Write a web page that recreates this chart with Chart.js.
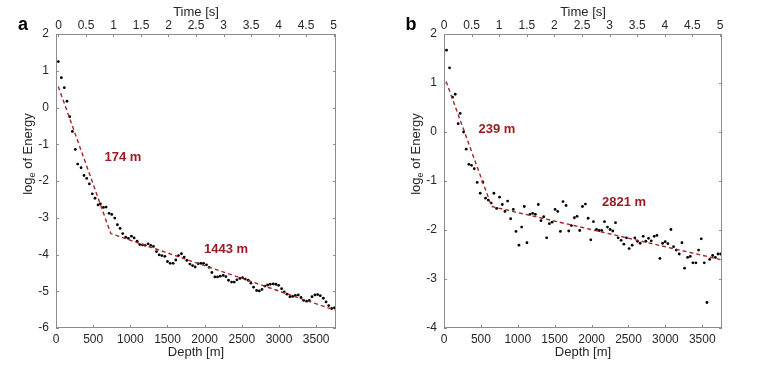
<!DOCTYPE html>
<html>
<head>
<meta charset="utf-8">
<script src="https://cdn.jsdelivr.net/npm/chart.js@4.4.0/dist/chart.umd.min.js"></script>
<style>
    html, body { margin: 0; padding: 0; background: #fff; }
    #wrap { position: relative; width: 763px; height: 370px; }
    canvas { position: absolute; top: 0; }
</style>
</head>
<body>
<div id="wrap">
    <canvas id="chartA" width="380" height="370" style="left:0"></canvas>
    <canvas id="chartB" width="380" height="370" style="left:383px"></canvas>
</div>
<script>
// Panel a data (depth in m, log_e of energy)
const depthA = [31, 72, 112, 148, 184, 220, 260, 292, 337, 377,
    413, 449, 489, 525, 566, 597, 638, 674, 714, 750,
    790, 826, 862, 898, 938, 974, 1015, 1051, 1091, 1127,
    1163, 1199, 1239, 1275, 1311, 1352, 1388, 1423, 1464, 1500,
    1536, 1576, 1612, 1648, 1688, 1724, 1760, 1801, 1837, 1872,
    1913, 1949, 1985, 2025, 2061, 2097, 2137, 2173, 2209, 2250,
    2286, 2321, 2362, 2398, 2434, 2474, 2510, 2546, 2586, 2622,
    2658, 2699, 2735, 2771, 2811, 2847, 2883, 2923, 2959, 2995,
    3035, 3071, 3107, 3148, 3184, 3220, 3260, 3296, 3332, 3372,
    3408, 3444, 3484, 3520, 3556, 3597, 3633, 3669, 3709, 3745];
const energyA = [1.25, 0.81, 0.54, 0.17, -0.25, -0.65, -1.14, -1.54, -1.64, -1.85,
    -1.93, -2.08, -2.35, -2.47, -2.65, -2.62, -2.72, -2.71, -2.88, -2.91,
    -3.01, -3.19, -3.29, -3.43, -3.53, -3.56, -3.50, -3.55, -3.64, -3.73,
    -3.74, -3.75, -3.71, -3.75, -3.78, -3.92, -4.01, -4.03, -4.05, -4.19,
    -4.24, -4.24, -4.15, -4.03, -3.98, -4.07, -4.16, -4.26, -4.30, -4.34,
    -4.25, -4.24, -4.24, -4.28, -4.35, -4.49, -4.61, -4.61, -4.59, -4.57,
    -4.60, -4.70, -4.75, -4.75, -4.69, -4.65, -4.63, -4.67, -4.70, -4.78,
    -4.89, -4.98, -4.99, -4.95, -4.86, -4.83, -4.81, -4.80, -4.81, -4.84,
    -4.93, -5.02, -5.08, -5.15, -5.14, -5.11, -5.10, -5.17, -5.25, -5.27,
    -5.25, -5.15, -5.10, -5.09, -5.12, -5.19, -5.29, -5.39, -5.47, -5.45];
const fitDepthA = [31, 737, 3745];
const fitEnergyA = [0.57, -3.43, -5.51];

// Panel b data
const depthB = [34, 75, 115, 152, 192, 219, 265, 301, 337, 373,
    410, 450, 491, 527, 563, 600, 640, 676, 713, 753,
    790, 826, 862, 903, 939, 975, 1016, 1052, 1088, 1124,
    1165, 1201, 1238, 1278, 1314, 1351, 1391, 1428, 1464, 1505,
    1541, 1577, 1613, 1654, 1690, 1726, 1767, 1803, 1839, 1876,
    1916, 1953, 1989, 2025, 2066, 2102, 2138, 2174, 2215, 2251,
    2287, 2324, 2360, 2400, 2437, 2473, 2509, 2550, 2586, 2622,
    2658, 2699, 2735, 2772, 2808, 2848, 2885, 2925, 2962, 2998,
    3034, 3075, 3111, 3147, 3188, 3224, 3260, 3301, 3337, 3373,
    3414, 3450, 3486, 3527, 3563, 3600, 3640, 3677, 3713, 3749];
const energyB = [1.67, 1.31, 0.71, 0.77, 0.17, 0.38, 0.00, -0.35, -0.66, -0.68,
    -0.75, -1.03, -1.25, -1.02, -1.35, -1.39, -1.45, -1.25, -1.56, -1.33,
    -1.48, -1.62, -1.41, -1.77, -1.58, -2.03, -2.31, -1.94, -1.52, -2.26,
    -1.68, -1.66, -1.68, -1.48, -1.81, -1.73, -2.16, -1.87, -1.84, -1.58,
    -1.62, -2.03, -1.42, -1.50, -2.02, -1.91, -1.75, -1.72, -2.01, -1.52,
    -1.47, -1.76, -2.20, -1.83, -1.99, -2.01, -2.01, -1.83, -1.94, -1.99,
    -2.02, -1.85, -2.16, -2.21, -2.29, -2.16, -2.38, -2.31, -2.16, -2.23,
    -2.27, -2.13, -2.23, -2.17, -2.22, -2.13, -2.11, -2.58, -2.27, -2.24,
    -2.28, -1.99, -2.34, -2.41, -2.49, -2.26, -2.78, -2.56, -2.54, -2.67,
    -2.67, -2.41, -2.18, -2.67, -3.48, -2.60, -2.52, -2.56, -2.49, -2.49];
const fitDepthB = [29, 645, 3767];
const fitEnergyB = [1.03, -1.52, -2.61];

// Tick labels
const depthTicks = [0, 500, 1000, 1500, 2000, 2500, 3000, 3500];
const timeTicks = [0, 0.5, 1, 1.5, 2, 2.5, 3, 3.5, 4, 4.5, 5];
const energyTicksA = [2, 1, 0, -1, -2, -3, -4, -5, -6];
const energyTicksB = [2, 1, 0, -1, -2, -3, -4];

const FONT = '"Liberation Sans", Arial, sans-serif';
const textColor = '#262626';
const frameColor = '#8c8c8c';
const fitColor = '#a3262a';
const noteColor = '#9b1c20';

function toPoints(xs, ys) {
    return xs.map((x, i) => ({ x: x, y: ys[i] }));
}

function fixTicks(values) {
    return (scale) => { scale.ticks = values.map(v => ({ value: v })); };
}

// Frame, inward tick marks, titles and notes
const panelDecor = {
    id: 'panelDecor',
    afterDraw(chart, args, opts) {
        const { ctx, chartArea: a, scales } = chart;
        ctx.save();

        ctx.strokeStyle = frameColor;
        ctx.lineWidth = 1;
        ctx.strokeRect(a.left + 0.5, a.top + 0.5, a.right - a.left - 1, a.bottom - a.top - 1);

        ctx.beginPath();
        scales.x.ticks.forEach(t => {
            const px = Math.round(scales.x.getPixelForValue(t.value)) + 0.5;
            ctx.moveTo(px, a.bottom);
            ctx.lineTo(px, a.bottom - 3);
        });
        scales.x2.ticks.forEach(t => {
            const px = Math.round(scales.x2.getPixelForValue(t.value)) + 0.5;
            ctx.moveTo(px, a.top);
            ctx.lineTo(px, a.top + 3);
        });
        scales.y.ticks.forEach(t => {
            const py = Math.round(scales.y.getPixelForValue(t.value)) + 0.5;
            ctx.moveTo(a.left, py);
            ctx.lineTo(a.left + 3, py);
            ctx.moveTo(a.right, py);
            ctx.lineTo(a.right - 3, py);
        });
        ctx.stroke();

        // axis titles
        const cx = (a.left + a.right) / 2;
        ctx.fillStyle = textColor;
        ctx.textAlign = 'center';
        ctx.textBaseline = 'middle';
        ctx.font = '13px ' + FONT;
        ctx.fillText('Time [s]', cx, 12);
        ctx.fillText('Depth [m]', cx, 352);

        // y title with subscript e
        ctx.save();
        ctx.translate(a.left - 29, 154);
        ctx.rotate(-Math.PI / 2);
        ctx.textAlign = 'left';
        ctx.textBaseline = 'alphabetic';
        ctx.font = '13px ' + FONT;
        const w1 = ctx.measureText('log').width;
        const w3 = ctx.measureText(' of Energy').width;
        ctx.font = '9px ' + FONT;
        const w2 = ctx.measureText('e').width;
        let x0 = -(w1 + w2 + w3) / 2;
        ctx.font = '13px ' + FONT;
        ctx.fillText('log', x0, 4.5);
        ctx.font = '9px ' + FONT;
        ctx.fillText('e', x0 + w1, 7.5);
        ctx.font = '13px ' + FONT;
        ctx.fillText(' of Energy', x0 + w1 + w2, 4.5);
        ctx.restore();

        // panel letter
        ctx.font = 'bold 18px ' + FONT;
        ctx.fillStyle = '#000';
        ctx.fillText(opts.letter, a.left - 33, 25);

        // decay length notes
        ctx.font = 'bold 13px ' + FONT;
        ctx.fillStyle = noteColor;
        opts.notes.forEach(n => {
            ctx.fillText(n.text, scales.x.getPixelForValue(n.x), scales.y.getPixelForValue(n.y));
        });

        ctx.restore();
    }
};

function makePanel(canvasId, cfg) {
    const tickFont = { family: FONT, size: 12 };
    return new Chart(document.getElementById(canvasId), {
        type: 'scatter',
        data: {
            datasets: [
                {
                    data: toPoints(cfg.fitDepth, cfg.fitEnergy),
                    showLine: true,
                    borderColor: fitColor,
                    borderWidth: 1.4,
                    borderDash: [4, 3],
                    pointRadius: 0,
                    tension: 0,
                    xAxisID: 'x',
                    yAxisID: 'y'
                },
                {
                    data: toPoints(cfg.depth, cfg.energy),
                    backgroundColor: '#000',
                    borderWidth: 0,
                    pointRadius: 1.4,
                    xAxisID: 'x',
                    yAxisID: 'y'
                }
            ]
        },
        options: {
            responsive: false,
            animation: false,
            devicePixelRatio: 1,
            layout: { padding: { left: 0, right: cfg.padRight, top: 0, bottom: 0 } },
            plugins: {
                legend: { display: false },
                tooltip: { enabled: false },
                panelDecor: { letter: cfg.letter, notes: cfg.notes }
            },
            scales: {
                x: {
                    type: 'linear',
                    position: 'bottom',
                    min: 0,
                    max: 3767,
                    afterBuildTicks: fixTicks(depthTicks),
                    afterFit: (s) => { s.height = 42; },
                    grid: { display: false, drawTicks: false },
                    border: { display: false },
                    ticks: {
                        padding: 4, color: textColor, font: tickFont,
                        maxRotation: 0, autoSkip: false,
                        callback: (v) => String(v)
                    }
                },
                x2: {
                    type: 'linear',
                    axis: 'x',
                    position: 'top',
                    min: cfg.timeMin,
                    max: cfg.timeMax,
                    afterBuildTicks: fixTicks(timeTicks),
                    afterFit: (s) => { s.height = 34; },
                    grid: { display: false, drawTicks: false },
                    border: { display: false },
                    ticks: {
                        padding: 1, color: textColor, font: tickFont,
                        maxRotation: 0, autoSkip: false,
                        callback: (v) => String(v)
                    }
                },
                y: {
                    type: 'linear',
                    position: 'left',
                    min: cfg.yMin,
                    max: 2,
                    afterBuildTicks: fixTicks(cfg.yTicks),
                    afterFit: (s) => { s.width = cfg.yWidth; },
                    grid: { display: false, drawTicks: false },
                    border: { display: false },
                    ticks: {
                        padding: 7, color: textColor, font: tickFont,
                        autoSkip: false,
                        callback: (v) => String(v)
                    }
                }
            }
        },
        plugins: [panelDecor]
    });
}

makePanel('chartA', {
    letter: 'a',
    depth: depthA, energy: energyA,
    fitDepth: fitDepthA, fitEnergy: fitEnergyA,
    yMin: -6, yTicks: energyTicksA,
    timeMin: -0.045, timeMax: 5.045,
    yWidth: 56, padRight: 44,
    notes: [
        { text: '174 m', x: 901, y: -1.35 },
        { text: '1443 m', x: 2287, y: -3.85 }
    ]
});

makePanel('chartB', {
    letter: 'b',
    depth: depthB, energy: energyB,
    fitDepth: fitDepthB, fitEnergy: fitEnergyB,
    yMin: -4, yTicks: energyTicksB,
    timeMin: 0, timeMax: 5.036,
    yWidth: 61, padRight: 41,
    notes: [
        { text: '239 m', x: 718, y: 0.06 },
        { text: '2821 m', x: 2439, y: -1.43 }
    ]
});
</script>
</body>
</html>
